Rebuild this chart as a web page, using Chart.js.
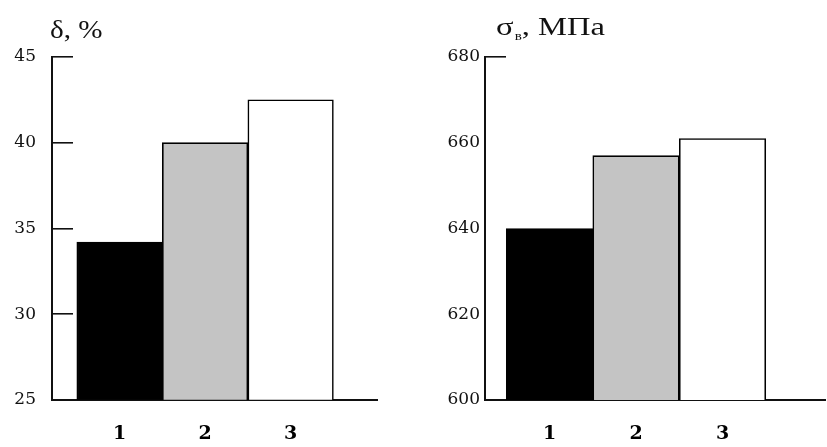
<!DOCTYPE html>
<html>
<head>
<meta charset="utf-8">
<script src="https://cdn.jsdelivr.net/npm/chart.js@4.4.1/dist/chart.umd.min.js"></script>
<style>
  html, body { margin: 0; padding: 0; background: #fff; }
  body { width: 827px; height: 447px; position: relative; overflow: hidden; }
  .box { position: absolute; top: 0; height: 447px; }
  .ttl { position: absolute; font-family: "Liberation Serif", "DejaVu Serif", serif; font-size: 26px; color: #111; white-space: nowrap; line-height: 1; transform-origin: 0 0; }
  .ttl sub { font-size: 12px; vertical-align: -5px; margin-left: 1px; }
</style>
</head>
<body>
<div class="box" style="left:0;width:410px;"><canvas id="c1"></canvas></div>
<div class="box" style="left:410px;width:417px;"><canvas id="c2"></canvas></div>
<div class="ttl" style="left:50px;top:17px;transform:scaleX(1.12);">δ, %</div>
<div class="ttl" style="left:496px;top:14px;transform:scaleX(1.25);">σ<sub>в</sub>, МПа</div>
<script>
// ---- data ----
const categories = ['1', '2', '3'];
const elongation = [34.2, 40.0, 42.5];      // δ, %
const strength = [640, 657, 661];           // σв, МПа
const elongTicks = [25, 30, 35, 40, 45];
const strengthTicks = [600, 620, 640, 660, 680];
const barColors = ['#000000', '#c4c4c4', '#ffffff'];

const serif = '"DejaVu Serif", "Liberation Serif", serif';

function makeChart(id, values, yTicks, opts) {
  const pts = values.map((v, i) => ({ x: i + 1, y: v }));
  return new Chart(document.getElementById(id), {
    type: 'bar',
    data: {
      datasets: [{
        data: pts,
        backgroundColor: barColors,
        borderColor: '#000',
        borderWidth: 1.6,
        borderSkipped: 'bottom',
        barPercentage: 1,
        categoryPercentage: 1
      }]
    },
    options: {
      responsive: true,
      maintainAspectRatio: false,
      animation: false,
      layout: { padding: { left: 0, top: 57, right: opts.padRight, bottom: 0 } },
      plugins: { legend: { display: false }, tooltip: { enabled: false }, title: { display: false } },
      scales: {
        x: {
          type: 'linear',
          offset: false,
          min: opts.xmin,
          max: opts.xmax,
          afterBuildTicks: s => { s.ticks = categories.map((c, i) => ({ value: i + 1 })); },
          afterFit: s => { s.height = 47; },
          grid: { display: false },
          border: { display: true, color: '#111', width: 2 },
          ticks: {
            padding: 15,
            color: '#000',
            font: { family: serif, size: 19, weight: 'bold' },
            callback: (v) => categories[Math.round(v) - 1] ?? ''
          }
        },
        y: {
          min: yTicks[0],
          max: yTicks[yTicks.length - 1],
          afterBuildTicks: s => { s.ticks = yTicks.map(v => ({ value: v })); },
          afterFit: s => { s.width = opts.yWidth; },
          grid: {
            display: true,
            drawOnChartArea: false,
            drawTicks: true,
            tickLength: -21,
            lineWidth: 1.6,
            tickColor: c => opts.tickShown(c.tick && c.tick.value) ? '#111' : 'rgba(0,0,0,0)'
          },
          border: { display: true, color: '#111', width: 2 },
          ticks: {
            padding: 21 + opts.labelGap,
            color: '#111',
            font: { family: serif, size: 17 }
          }
        }
      }
    }
  });
}

makeChart('c1', elongation, elongTicks, {
  padRight: 33, yWidth: 52, xmin: 0.21, xmax: 4.01, labelGap: 16,
  tickShown: v => v !== 25
});
makeChart('c2', strength, strengthTicks, {
  padRight: 2, yWidth: 75, xmin: 0.254, xmax: 4.185, labelGap: 5,
  tickShown: v => v === 680
});
</script>
</body>
</html>
